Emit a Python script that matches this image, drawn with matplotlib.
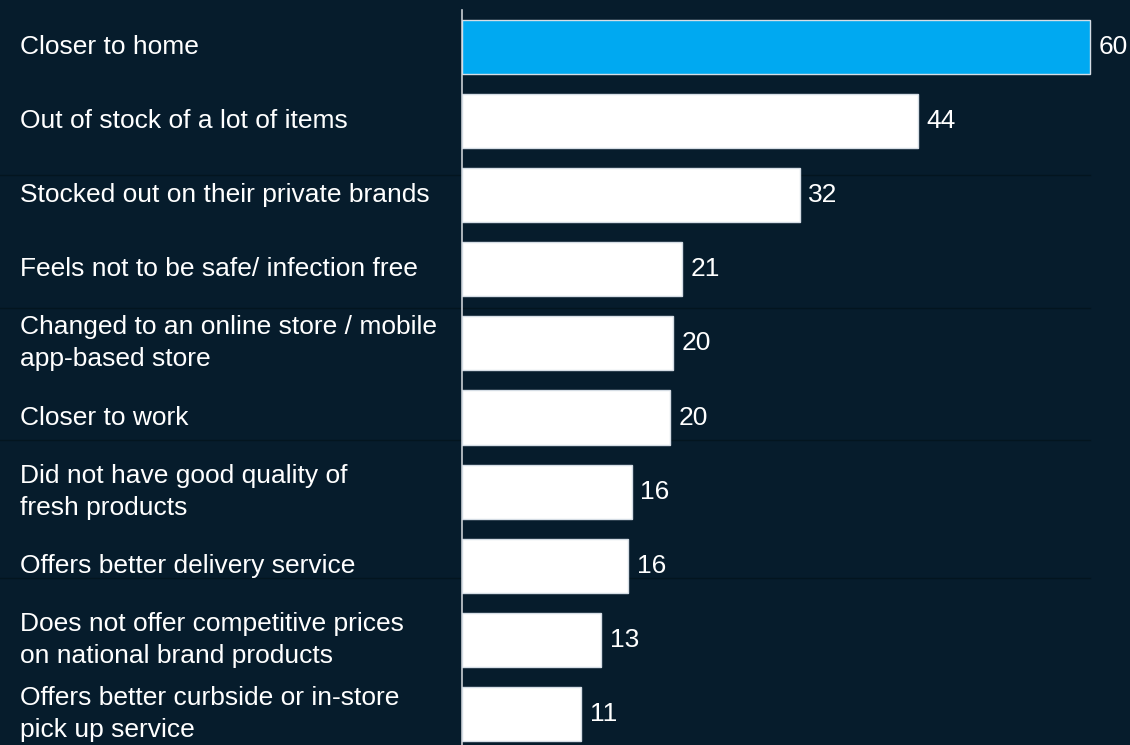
import matplotlib.pyplot as plt
from matplotlib.lines import Line2D

plt.rcParams['font.family'] = ['Liberation Sans', 'DejaVu Sans']

# reasons for switching store, % of respondents
reasons = [
    'Closer to home',
    'Out of stock of a lot of items',
    'Stocked out on their private brands',
    'Feels not to be safe/ infection free',
    'Changed to an online store / mobile\napp-based store',
    'Closer to work',
    'Did not have good quality of\nfresh products',
    'Offers better delivery service',
    'Does not offer competitive prices\non national brand products',
    'Offers better curbside or in-store\npick up service',
]
values = [60, 43.6, 32.3, 21.0, 20.2, 19.9, 16.2, 15.9, 13.3, 11.4]
colors = ['#00a9f1'] + ['#ffffff'] * 9

bg = '#061c2c'
fig = plt.figure(figsize=(11.3, 7.45), dpi=100, facecolor=bg)
ax = fig.add_axes([462 / 1130, 0, 668 / 1130, 1 - 10 / 745])
ax.set_facecolor('none')

pos = list(range(len(values)))
ax.barh(pos, values, height=0.73, color=colors, edgecolor='#d5dde5', linewidth=1.0, zorder=3)

ax.set_xlim(0, 60 * 668 / 628)
ax.set_ylim(9.42, -0.5)

for s in ['top', 'right', 'bottom']:
    ax.spines[s].set_visible(False)
ax.spines['left'].set_color('#c9ced3')
ax.spines['left'].set_linewidth(1.2)
ax.set_xticks([])
ax.set_yticks([])

# category labels on the left
for p, r in zip(pos, reasons):
    ax.text(-0.6617, p, r, transform=ax.get_yaxis_transform(), ha='left', va='center',
            color='white', fontsize=19, linespacing=1.42, clip_on=False)

# value labels
for p, v in zip(pos, values):
    ax.annotate(f'{round(v)}', (v, p), xytext=(6, 0), textcoords='offset points',
                ha='left', va='center', color='white', fontsize=19, annotation_clip=False)

# faint separator lines from the source slide
for ypx in [175, 308, 440, 578]:
    fig.add_artist(Line2D([0, 1090 / 1130], [1 - ypx / 745] * 2, color='#03151f',
                          linewidth=1.0, zorder=0))

fig.savefig('out.png', dpi=100, facecolor=bg)
